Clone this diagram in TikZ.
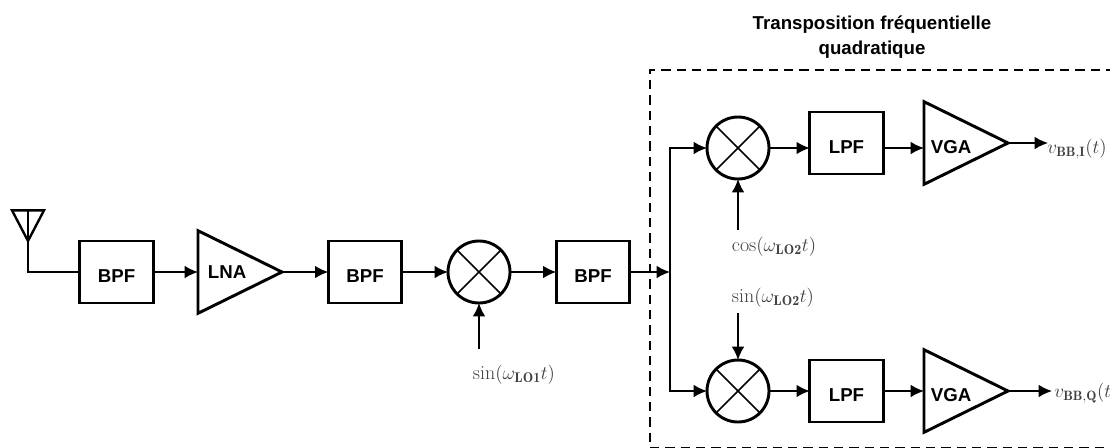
\documentclass[tikz,border=0pt]{standalone}
\usepackage{fontspec}
\setsansfont{Liberation Sans}
\usetikzlibrary{arrows.meta,shapes.geometric}

\begin{document}
\begin{tikzpicture}[x=0.75pt, y=-0.75pt, >={Latex[length=10pt,width=9.5pt]},
	bloc/.style={draw, line width=2.2pt, minimum width=55pt, minimum height=46.5pt, inner sep=0, outer sep=0, text height=15.5pt, text depth=0pt, font=\sffamily\bfseries\fontsize{14}{15}\selectfont},
	ampli/.style={draw, line width=2.2pt, isosceles triangle, isosceles triangle stretches, shape border rotate=0, minimum width=62pt, minimum height=63pt, inner sep=0, outer sep=0, font=\sffamily\bfseries\fontsize{14}{15}\selectfont},
	vga/.style={ampli, text height=15.5pt, text depth=0pt},
	mixeur/.style={draw, line width=2.2pt, circle, minimum size=46.5pt, inner sep=0, outer sep=0,
		path picture={\draw[line width=1.1pt] (path picture bounding box.north west) -- (path picture bounding box.south east) (path picture bounding box.north east) -- (path picture bounding box.south west);}},
	lien/.style={line width=1.3pt},
	signal/.style={text=black!75, font=\fontsize{14.5}{16}\selectfont},
	oscillateur/.style={signal, font=\fontsize{15}{16}\selectfont}]
	\useasboundingbox (0,0) rectangle (1110,447);

	% chaine principale
	\node[bloc] (bpfA) at (116.5,272) {BPF};
	\node[ampli, anchor=lower side] (lna) at (198,272) {LNA};
	\node[bloc] (bpfB) at (365,272) {BPF};
	\node[mixeur] (mixA) at (479,272) {};
	\node[bloc] (bpfC) at (593,272) {BPF};
	\coordinate (jonction) at (670,272);

	% antenne
	\node[draw, line width=1.8pt, isosceles triangle, isosceles triangle stretches, shape border rotate=-90, minimum width=24pt, minimum height=23pt, inner sep=0, outer sep=0] (antenne) at (28,220) {};
	\draw[lien] (antenne.lower side) -- (antenne.apex) |- (bpfA.west);

	% voie I
	\node[mixeur] (mixI) at (738,148) {};
	\node[bloc] (lpfI) at (846.5,143) {LPF};
	\node[vga, anchor=lower side] (vgaI) at (924,143) {VGA};
	\coordinate (loI) at (738,230);
	\coordinate (sortieI) at (1048,143);
	\node[oscillateur] (cosI) at (774,247) {$\cos(\omega_{\mathbf{LO2}}t)$};
	\node[signal] (vI) at (1077,149) {$v_{\mathbf{BB,I}}(t)$};

	% voie Q
	\node[mixeur] (mixQ) at (738,391) {};
	\node[bloc] (lpfQ) at (846.5,391) {LPF};
	\node[vga, anchor=lower side] (vgaQ) at (924,391) {VGA};
	\coordinate (loQ) at (738,313);
	\coordinate (sortieQ) at (1052,391);
	\node[oscillateur] (sinQ) at (773,298) {$\sin(\omega_{\mathbf{LO2}}t)$};
	\node[signal, anchor=west, inner sep=0] (vQ) at (1054,393) {$v_{\mathbf{BB,Q}}(t)$};

	\coordinate (loA) at (479,349);
	\node[oscillateur] (sinA) at (514,375) {$\sin(\omega_{\mathbf{LO1}}t)$};

	\path[lien] (bpfA) edge[->] (lna.lower side);
	\path[lien] (lna.apex) edge[->] (bpfB);
	\path[lien] (bpfB) edge[->] (mixA);
	\path[lien] (mixA) edge[->] (bpfC);
	\path[lien] (bpfC) edge[->] (jonction);
	\path[lien] (loA) edge[->] (mixA);

	\draw[lien, ->] (jonction) |- (mixI);
	\draw[lien, ->] (jonction) |- (mixQ);

	\path[lien] (mixI) edge[->] (mixI -| lpfI.west);
	\path[lien] (lpfI.east |- mixI) edge[->] (vgaI.lower side |- mixI);
	\path[lien] (vgaI.apex) edge[->] (sortieI);
	\path[lien] (loI) edge[->] (mixI);

	\path[lien] (mixQ) edge[->] (lpfQ);
	\path[lien] (lpfQ) edge[->] (vgaQ.lower side);
	\path[lien] (vgaQ.apex) edge[->] (sortieQ);
	\path[lien] (loQ) edge[->] (mixQ);

	% cadre pointille
	\node[draw, line width=1.3pt, dash pattern=on 7pt off 4.5pt, minimum width=349pt, minimum height=283.5pt, inner sep=0, outer sep=0] (cadre) at (882.5,259) {};
	\node[align=center, font=\sffamily\bfseries\fontsize{14}{19}\selectfont] (titre) at (872,37) {Transposition fréquentielle\\quadratique};
\end{tikzpicture}
\end{document}
